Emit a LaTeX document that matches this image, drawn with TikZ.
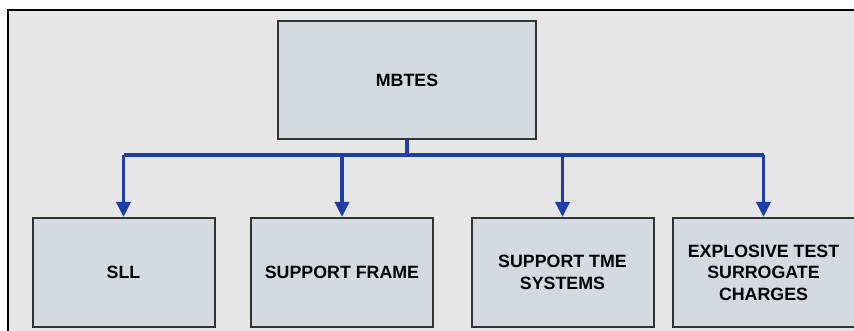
\documentclass[tikz,border=0pt]{standalone}
\usepackage{fontspec}
\setmainfont{Liberation Sans}
\usetikzlibrary{arrows.meta}
\definecolor{panelgray}{RGB}{230,230,230}
\definecolor{boxfill}{RGB}{212,218,226}
\definecolor{boxline}{RGB}{50,50,50}
\definecolor{busblue}{RGB}{32,62,170}
\begin{document}
\begin{tikzpicture}[x=1pt,y=-1pt]
                      \tikzstyle{unit}=[rectangle,draw=boxline,line width=2pt,fill=boxfill,inner sep=2pt,minimum width=182pt,minimum height=109pt,align=center,font=\fontsize{17.8}{21.5}\selectfont\bfseries]
                      \tikzstyle{feed}=[draw=busblue,line width=3.4pt]
                      \useasboundingbox (0,0) rectangle (854,331);
                      \fill[white] (0,0) rectangle (854,331);
                      \draw[fill=panelgray,line width=1.5pt] (8,10) rectangle (870,345);
                      \node[unit,minimum width=258pt,minimum height=118pt] (mbtes) at (407,80) {MBTES};
                      \node[unit] (sll) at (123.5,272.5) {SLL};
                      \node[unit] (frame) at (342,272.5) {SUPPORT FRAME};
                      \node[unit] (tme) at (562.5,272.5) {SUPPORT TME\\SYSTEMS};
                      \node[unit] (etsc) at (763.5,272.5) {EXPLOSIVE TEST\\SURROGATE\\CHARGES};
                      \coordinate (bus) at (407,155);
                      \draw[feed] (mbtes.south) -- (bus);
                      \draw[feed] (sll.north |- bus) -- (etsc.north |- bus);
                      \draw[feed,-{Triangle[width=14pt,length=15pt]}] (sll.north |- bus) -- (sll.north);
                      \draw[feed,-{Triangle[width=14pt,length=15pt]}] (frame.north |- bus) -- (frame.north);
                      \draw[feed,-{Triangle[width=14pt,length=15pt]}] (tme.north |- bus) -- (tme.north);
                      \draw[feed,-{Triangle[width=14pt,length=15pt]}] (etsc.north |- bus) -- (etsc.north);
                  \end{tikzpicture}
\end{document}
